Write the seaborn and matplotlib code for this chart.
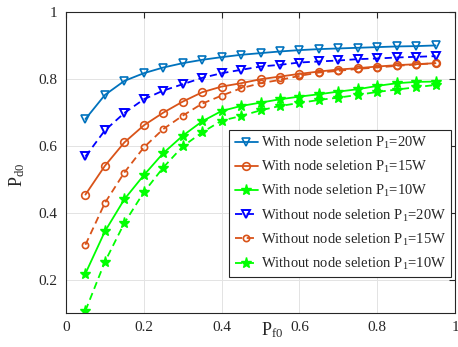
import matplotlib
matplotlib.use("Agg")
import matplotlib.pyplot as plt
import seaborn as sns
import numpy as np
import pandas as pd

sns.set_style("white")
plt.rcParams['font.family'] = ['Liberation Serif', 'DejaVu Serif']
plt.rcParams['mathtext.fontset'] = 'custom'
plt.rcParams['mathtext.rm'] = 'Liberation Serif'
plt.rcParams['mathtext.it'] = 'Liberation Serif'
plt.rcParams['mathtext.default'] = 'regular'

# ---------------- data ----------------
pf0 = [0.05, 0.10, 0.15, 0.20, 0.25, 0.30, 0.35, 0.40, 0.45, 0.50,
       0.55, 0.60, 0.65, 0.70, 0.75, 0.80, 0.85, 0.90, 0.95]

with_20 = [0.680, 0.752, 0.794, 0.817, 0.834, 0.847, 0.857, 0.865, 0.872, 0.877,
           0.882, 0.886, 0.889, 0.891, 0.893, 0.895, 0.897, 0.898, 0.900]
with_15 = [0.454, 0.540, 0.610, 0.661, 0.699, 0.732, 0.760, 0.777, 0.787, 0.799,
           0.807, 0.815, 0.822, 0.828, 0.832, 0.837, 0.841, 0.844, 0.847]
with_10 = [0.218, 0.344, 0.440, 0.512, 0.578, 0.630, 0.673, 0.704, 0.719, 0.729,
           0.739, 0.747, 0.754, 0.762, 0.769, 0.779, 0.787, 0.791, 0.792]
without_20 = [0.568, 0.646, 0.698, 0.739, 0.765, 0.784, 0.803, 0.817, 0.827, 0.837,
              0.842, 0.849, 0.852, 0.855, 0.859, 0.861, 0.864, 0.866, 0.868]
without_15 = [0.304, 0.429, 0.520, 0.595, 0.650, 0.690, 0.726, 0.750, 0.772, 0.787,
              0.797, 0.809, 0.819, 0.824, 0.830, 0.834, 0.839, 0.843, 0.847]
without_10 = [0.107, 0.253, 0.369, 0.461, 0.535, 0.598, 0.640, 0.675, 0.689, 0.706,
              0.719, 0.728, 0.737, 0.744, 0.752, 0.761, 0.768, 0.775, 0.782]

labels = ["With node seletion P$_1$=20W",
          "With node seletion P$_1$=15W",
          "With node seletion P$_1$=10W",
          "Without node seletion P$_1$=20W",
          "Without node seletion P$_1$=15W",
          "Without node seletion P$_1$=10W"]

x_ticks = [0, 0.2, 0.4, 0.6, 0.8, 1]
x_ticklabels = ["0", "0.2", "0.4", "0.6", "0.8", "1"]
y_ticks = [0.2, 0.4, 0.6, 0.8, 1]
y_ticklabels = ["0.2", "0.4", "0.6", "0.8", "1"]

series = [with_20, with_15, with_10, without_20, without_15, without_10]

styles = [
    dict(color="#0072BD", marker="v", linestyle="-", markersize=6, mfc="none", mew=1.2),
    dict(color="#D95319", marker="o", linestyle="-", markersize=5.5, mfc="none", mew=1.2),
    dict(color="#00FF00", marker="*", linestyle="-", markersize=8, mfc="#00FF00", mew=1.0),
    dict(color="#0000FF", marker="v", linestyle=(0, (4, 2.5)), markersize=5.5, mfc="none", mew=1.4),
    dict(color="#D95319", marker="o", linestyle=(0, (4, 2.5)), markersize=4.5, mfc="none", mew=1.2),
    dict(color="#00FF00", marker="*", linestyle=(0, (4, 2.5)), markersize=8, mfc="#00FF00", mew=1.0),
]

fig = plt.figure(figsize=(4.58, 3.47), dpi=100)
ax = fig.add_axes([66 / 458, 1 - 313 / 347, 389 / 458, 301 / 347])

for vals, lab, st in zip(series, labels, styles):
    df = pd.DataFrame({"x": pf0, "y": vals})
    sns.lineplot(data=df, x="x", y="y", ax=ax, label=lab, color=st["color"],
                 marker=st["marker"], linestyle=st["linestyle"], linewidth=1.3,
                 markersize=st["markersize"], markerfacecolor=st["mfc"],
                 markeredgecolor=st["color"], markeredgewidth=st["mew"])

ax.set_xlim(0, 1)
ax.set_ylim(0.1, 1)
ax.set_xticks(x_ticks)
ax.set_xticklabels(x_ticklabels)
ax.set_yticks(y_ticks)
ax.set_yticklabels(y_ticklabels)
ax.grid(True, color="#e3e3e3", linewidth=0.7)
ax.tick_params(direction="in", length=4, width=0.8, top=True, right=True,
               labelsize=11, colors="#262626", pad=6)
for s in ax.spines.values():
    s.set_color("#262626")
    s.set_linewidth(0.8)

ax.set_xlabel("P$_{f0}$", fontsize=13, color="#262626")
ax.xaxis.set_label_coords(0.53, -0.025)
ax.set_ylabel("P$_{d0}$", fontsize=13, color="#262626")
ax.yaxis.set_label_coords(-0.10, 0.46)

leg = ax.legend(loc="lower right", bbox_to_anchor=(0.99, 0.12), fontsize=10.5,
                frameon=True, fancybox=False, framealpha=1, edgecolor="#262626",
                handlelength=1.6, handletextpad=0.2, labelspacing=0.55,
                borderpad=0.35, borderaxespad=0)
leg.get_frame().set_linewidth(0.8)

fig.savefig("out.png", dpi=100)
